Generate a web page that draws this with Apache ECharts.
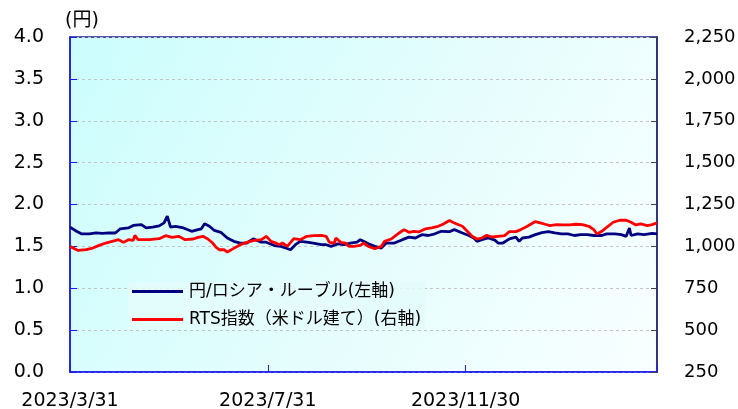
<!DOCTYPE html>
<html>
<head>
	<meta charset="utf-8" />
	<title>円/ロシア・ルーブル と RTS指数</title>
	<script src="https://cdn.jsdelivr.net/npm/echarts@6/dist/echarts.min.js"></script>
	<style>
		html, body { margin: 0; padding: 0; background: #fff; }
		#chart { width: 738px; height: 409px; }
	</style>
</head>
<body>
	<div id="chart"></div>
	<script type="text/javascript">
		// 円/ロシア・ルーブル (左軸)
		const rubDates = [
			'2023/3/31', '2023/4/4', '2023/4/7', '2023/4/12', '2023/4/16', '2023/4/20', '2023/4/24', '2023/4/28',
			'2023/5/1', '2023/5/6', '2023/5/9', '2023/5/14', '2023/5/17', '2023/5/21', '2023/5/25', '2023/5/28',
			'2023/5/30', '2023/6/1', '2023/6/4', '2023/6/9', '2023/6/14', '2023/6/18', '2023/6/20', '2023/6/22',
			'2023/6/25', '2023/6/28', '2023/7/2', '2023/7/6', '2023/7/10', '2023/7/14', '2023/7/18', '2023/7/22',
			'2023/7/27', '2023/7/30', '2023/8/4', '2023/8/8', '2023/8/11', '2023/8/14', '2023/8/17', '2023/8/20',
			'2023/8/24', '2023/8/28', '2023/9/2', '2023/9/5', '2023/9/8', '2023/9/12', '2023/9/16', '2023/9/20',
			'2023/9/24', '2023/9/26', '2023/9/28', '2023/10/1', '2023/10/5', '2023/10/9', '2023/10/12', '2023/10/17',
			'2023/10/22', '2023/10/26', '2023/10/30', '2023/11/3', '2023/11/7', '2023/11/11', '2023/11/15', '2023/11/20',
			'2023/11/23', '2023/11/28', '2023/12/2', '2023/12/5', '2023/12/7', '2023/12/10', '2023/12/14', '2023/12/18',
			'2023/12/20', '2023/12/23', '2023/12/27', '2023/12/31', '2024/1/2', '2024/1/4', '2024/1/8', '2024/1/12',
			'2024/1/16', '2024/1/20', '2024/1/24', '2024/1/28', '2024/2/1', '2024/2/5', '2024/2/9', '2024/2/13',
			'2024/2/17', '2024/2/22', '2024/2/25', '2024/3/1', '2024/3/5', '2024/3/8', '2024/3/10', '2024/3/11',
			'2024/3/15', '2024/3/19', '2024/3/24', '2024/3/27'
		];
		const rubValues = [
			1.73, 1.68, 1.65, 1.65, 1.66, 1.655, 1.66, 1.66,
			1.71, 1.72, 1.75, 1.76, 1.72, 1.73, 1.745, 1.78,
			1.86, 1.73, 1.74, 1.72, 1.68, 1.70, 1.71, 1.77,
			1.74, 1.69, 1.668, 1.60, 1.56, 1.54, 1.54, 1.59,
			1.55, 1.55, 1.51, 1.50, 1.48, 1.46, 1.52, 1.56,
			1.55, 1.54, 1.52, 1.52, 1.50, 1.53, 1.52, 1.54,
			1.55, 1.58, 1.56, 1.53, 1.50, 1.48, 1.54, 1.54,
			1.58, 1.61, 1.60, 1.64, 1.63, 1.65, 1.68, 1.675,
			1.70, 1.66, 1.63, 1.60, 1.56, 1.58, 1.60, 1.575,
			1.54, 1.54, 1.59, 1.61, 1.56, 1.60, 1.61, 1.64,
			1.665, 1.675, 1.66, 1.65, 1.65, 1.63, 1.64, 1.64,
			1.63, 1.63, 1.65, 1.65, 1.64, 1.62, 1.72, 1.63,
			1.65, 1.64, 1.655, 1.65
		];

		// RTS指数（米ドル建て）(右軸)
		const rtsDates = [
			'2023/3/31', '2023/4/5', '2023/4/10', '2023/4/14', '2023/4/18', '2023/4/22', '2023/4/26', '2023/4/30',
			'2023/5/3', '2023/5/6', '2023/5/9', '2023/5/10', '2023/5/12', '2023/5/19', '2023/5/25', '2023/5/29',
			'2023/6/2', '2023/6/6', '2023/6/10', '2023/6/15', '2023/6/18', '2023/6/21', '2023/6/24', '2023/6/27',
			'2023/6/29', '2023/7/1', '2023/7/4', '2023/7/6', '2023/7/10', '2023/7/14', '2023/7/18', '2023/7/22',
			'2023/7/27', '2023/7/30', '2023/8/2', '2023/8/5', '2023/8/7', '2023/8/9', '2023/8/12', '2023/8/16',
			'2023/8/20', '2023/8/24', '2023/8/28', '2023/9/2', '2023/9/5', '2023/9/7', '2023/9/10', '2023/9/11',
			'2023/9/14', '2023/9/17', '2023/9/19', '2023/9/22', '2023/9/26', '2023/9/28', '2023/10/1', '2023/10/5',
			'2023/10/9', '2023/10/11', '2023/10/15', '2023/10/20', '2023/10/23', '2023/10/26', '2023/10/29', '2023/11/1',
			'2023/11/5', '2023/11/9', '2023/11/13', '2023/11/16', '2023/11/20', '2023/11/23', '2023/11/28', '2023/12/1',
			'2023/12/4', '2023/12/7', '2023/12/10', '2023/12/13', '2023/12/16', '2023/12/20', '2023/12/24', '2023/12/27',
			'2023/12/31', '2024/1/3', '2024/1/7', '2024/1/12', '2024/1/15', '2024/1/18', '2024/1/21', '2024/1/25',
			'2024/1/29', '2024/2/2', '2024/2/6', '2024/2/10', '2024/2/14', '2024/2/17', '2024/2/19', '2024/2/22',
			'2024/2/25', '2024/2/29', '2024/3/4', '2024/3/8', '2024/3/11', '2024/3/14', '2024/3/17', '2024/3/21',
			'2024/3/24', '2024/3/27'
		];
		const rtsValues = [
			1000, 976, 980, 990, 1006, 1020, 1030, 1040,
			1024, 1040, 1036, 1066, 1040, 1040, 1046, 1064,
			1054, 1060, 1040, 1044, 1054, 1060, 1044, 1020,
			995, 980, 980, 966, 988, 1010, 1024, 1034,
			1040, 1060, 1030, 1020, 1010, 1020, 1000, 1046,
			1040, 1060, 1064, 1066, 1060, 1024, 1020, 1050,
			1024, 1020, 1000, 1000, 1006, 1020, 1000, 986,
			1000, 1030, 1044, 1080, 1100, 1084, 1090, 1086,
			1104, 1110, 1120, 1132, 1154, 1140, 1120, 1090,
			1060, 1044, 1050, 1066, 1056, 1060, 1064, 1088,
			1088, 1100, 1120, 1148, 1140, 1132, 1124, 1130,
			1128, 1128, 1132, 1130, 1120, 1100, 1074, 1090,
			1114, 1144, 1156, 1156, 1144, 1128, 1134, 1124,
			1130, 1140
		];

		// x軸の目盛ラベル
		const xTickLabels = ['2023/3/31', '2023/7/31', '2023/11/30'];
		const xEndDate = '2024/3/27';

		const leftTicks = { min: 0, max: 4, interval: 0.5 };
		const rightTicks = { min: 250, max: 2250, interval: 250 };

		const toDate = function (s) {
			const p = s.split('/');
			return new Date(+p[0], +p[1] - 1, +p[2]);
		};
		const startDate = toDate(xTickLabels[0]);
		const dayOf = function (s) {
			return Math.round((toDate(s) - startDate) / 86400000);
		};
		const fmtDate = function (d) {
			const dt = new Date(startDate.getTime() + d * 86400000);
			return dt.getFullYear() + '/' + (dt.getMonth() + 1) + '/' + dt.getDate();
		};
		const tickDays = xTickLabels.map(dayOf);
		const xInterval = tickDays[1] - tickDays[0];

		const rubData = rubDates.map(function (d, i) { return [dayOf(d), rubValues[i]]; });
		const rtsData = rtsDates.map(function (d, i) { return [dayOf(d), rtsValues[i]]; });

		const chart = echarts.init(document.getElementById('chart'));

		const baseFont = 'DejaVu Sans, "Noto Sans CJK JP", sans-serif';

		const option = {
			animation: false,
			textStyle: { fontFamily: baseFont, color: '#000' },
			title: {
				text: '(円)',
				left: 65,
				top: 12,
				padding: 0,
				textStyle: { fontFamily: baseFont, fontSize: 19, fontWeight: 'normal', color: '#000' }
			},
			legend: {
				orient: 'vertical',
				left: 128,
				top: 282,
				padding: [1, 4, 1, 4],
				icon: 'path://M0,0 H51 V3 H0 Z',
				itemWidth: 51,
				itemHeight: 3,
				itemGap: 11,
				backgroundColor: 'rgba(228,252,252,0.85)',
				textStyle: { fontFamily: baseFont, fontSize: 17, color: '#000', padding: [0, 0, 0, 1] },
				data: ['円/ロシア・ルーブル(左軸)', 'RTS指数（米ドル建て）(右軸)']
			},
			grid: {
				left: 70,
				right: 81,
				top: 37,
				bottom: 37,
				outerBoundsMode: 'none',
				containLabel: false,
				show: true,
				borderWidth: 1.5,
				borderColor: '#1c1c8c',
				backgroundColor: new echarts.graphic.LinearGradient(0, 0, 1, 1, [
					{ offset: 0, color: '#ccfdfd' },
					{ offset: 0.55, color: '#e6fdfd' },
					{ offset: 1, color: '#f9ffff' }
				])
			},
			xAxis: {
				type: 'value',
				min: 0,
				max: dayOf(xEndDate),
				interval: xInterval,
				axisLine: { show: true, lineStyle: { color: '#1a1aff', width: 1.5 } },
				axisTick: { show: true, inside: true, length: 7, lineStyle: { color: '#1a1aff', width: 1 } },
				splitLine: { show: false },
				axisLabel: {
					margin: 20,
					fontSize: 19,
					color: '#000',
					fontFamily: baseFont,
					formatter: function (v) {
						return tickDays.indexOf(v) >= 0 ? fmtDate(v) : '';
					}
				}
			},
			yAxis: [{
				type: 'value',
				min: leftTicks.min,
				max: leftTicks.max,
				interval: leftTicks.interval,
				position: 'left',
				axisLine: { show: true, lineStyle: { color: '#1a1aff', width: 1.5 } },
				axisTick: { show: true, inside: true, length: 7, lineStyle: { color: '#1a1aff', width: 1 } },
				splitLine: { show: true, lineStyle: { color: '#c4c4c4', type: [3, 3], width: 1 } },
				axisLabel: {
					margin: 26,
					fontSize: 19,
					color: '#000',
					fontFamily: baseFont,
					formatter: function (v) { return v.toFixed(1); }
				}
			}, {
				type: 'value',
				min: rightTicks.min,
				max: rightTicks.max,
				interval: rightTicks.interval,
				position: 'right',
				axisLine: { show: true, lineStyle: { color: '#2a2a7a', width: 1.5 } },
				axisTick: { show: true, inside: true, length: 6, lineStyle: { color: '#444', width: 1 } },
				splitLine: { show: false },
				axisLabel: {
					margin: 27,
					fontSize: 18,
					color: '#000',
					fontFamily: baseFont
				}
			}],
			series: [{
				name: '円/ロシア・ルーブル(左軸)',
				type: 'line',
				yAxisIndex: 0,
				showSymbol: false,
				symbol: 'none',
				lineStyle: { color: '#000080', width: 2.8 },
				itemStyle: { color: '#000080' },
				data: rubData
			}, {
				name: 'RTS指数（米ドル建て）(右軸)',
				type: 'line',
				yAxisIndex: 1,
				showSymbol: false,
				symbol: 'none',
				lineStyle: { color: '#ff0000', width: 2.8 },
				itemStyle: { color: '#ff0000' },
				data: rtsData
			}]
		};

		chart.setOption(option);

		window.onresize = function () {
			chart.resize();
		};
	</script>
</body>
</html>
